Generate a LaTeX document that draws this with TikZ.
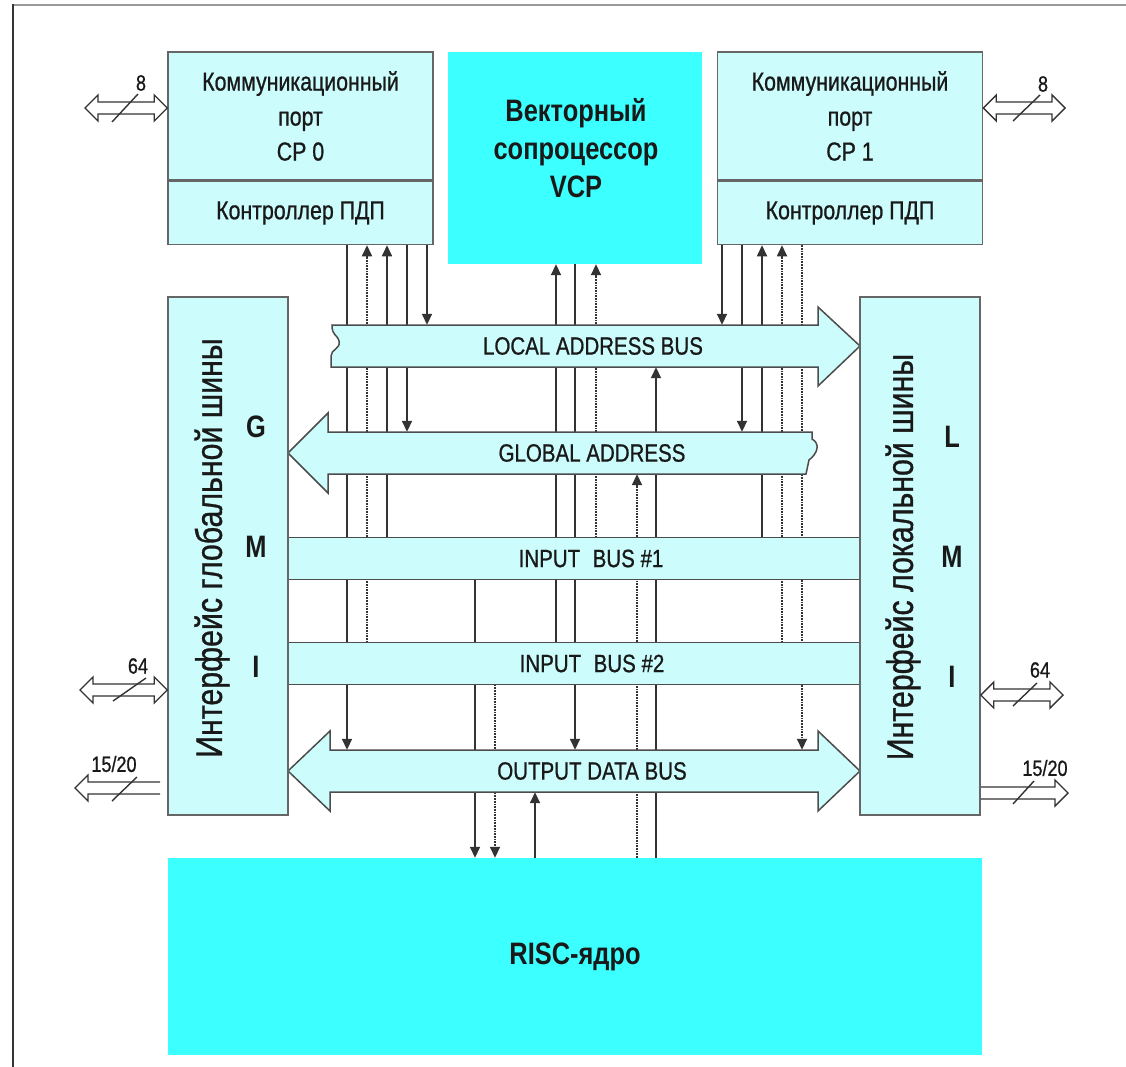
\documentclass[tikz,border=0pt]{standalone}
\usepackage{fontspec}
\setmainfont[FakeStretch=0.82]{Liberation Sans}
\newfontfamily\heavyfont[FakeStretch=0.82, FakeBold=0.8]{Liberation Sans}
\usetikzlibrary{arrows.meta, positioning, calc, backgrounds}
\definecolor{lightcyan}{HTML}{CCFCFC}
\definecolor{brightcyan}{HTML}{3CFFFF}
\definecolor{linegray}{HTML}{333333}

% hollow double-headed port arrow: #1 left tip, #2 right tip
\newcommand{\dblport}[2]{%
  \draw[portline] (#1) -- ++(13,-13) -- ++(0,7) -- ($(#2)+(-13,-6)$) -- ++(0,-7) -- (#2)
    -- ++(-13,13) -- ++(0,-7) -- ($(#1)+(13,6)$) -- ++(0,7) -- cycle;}
% hollow port arrow pointing left: #1 tip, #2 open end
\newcommand{\leftport}[2]{%
  \draw[portline] ($(#2)+(0,-6)$) -- ($(#1)+(13,-6)$) -- ++(0,-7) -- (#1)
    -- ++(13,13) -- ++(0,-7) -- ($(#2)+(0,6)$);}
% hollow port arrow pointing right: #1 open end, #2 tip
\newcommand{\rightport}[2]{%
  \draw[portline] ($(#1)+(0,-6)$) -- ($(#2)+(-13,-6)$) -- ++(0,-7) -- (#2)
    -- ++(-13,13) -- ++(0,-7) -- ($(#1)+(0,6)$);}

\begin{document}
\begin{tikzpicture}[
    x=1pt, y=-1pt,
    >={Triangle[length=11pt,width=10pt]},
    every node/.style={inner sep=0pt, text=black!90},
    blockbox/.style={rectangle, draw=black!60, line width=1.5pt, fill=lightcyan},
    corebox/.style={rectangle, fill=brightcyan},
    txt/.style={font=\heavyfont\fontsize{26}{35}\selectfont, align=center},
    boldtxt/.style={font=\fontsize{31}{38}\selectfont\bfseries, align=center},
    sidetxt/.style={font=\heavyfont\fontsize{37}{40}\selectfont, rotate=90},
    gmiletter/.style={font=\fontsize{31}{36}\selectfont\bfseries},
    bustext/.style={font=\heavyfont\fontsize{25}{30}\selectfont, minimum height=42pt},
    portlbl/.style={font=\heavyfont\fontsize{22}{24}\selectfont},
    busshape/.style={draw=black!70, line width=1.5pt, fill=lightcyan},
    wire/.style={draw=linegray, line width=1.7pt},
    dwire/.style={wire, densely dotted},
    portline/.style={draw=linegray, line width=1.4pt}
]
\useasboundingbox (0,0) rectangle (1126,1067);

% frame
\draw[black!40, line width=2.5pt] (13,5) -- (1126,5);
\draw[black!80, line width=1.5pt] (13,4) -- (13,1067);

% Blocks
\node[blockbox, txt, minimum width=265pt, minimum height=128pt] (cp0) at (300.5,116) {Коммуникационный\\порт\\CP 0};
\node[blockbox, txt, minimum width=265pt, minimum height=63pt, below=0pt of cp0] (dma0) {Контроллер ПДП};
\node[blockbox, txt, minimum width=265pt, minimum height=128pt] (cp1) at (850,116) {Коммуникационный\\порт\\CP 1};
\node[blockbox, txt, minimum width=265pt, minimum height=63pt, below=0pt of cp1] (dma1) {Контроллер ПДП};

\node[corebox, minimum width=254pt, minimum height=212pt] (vcp) at (575,158) {};
\node[boldtxt] (vcptxt) at (576,148) {Векторный\\сопроцессор\\VCP};

\node[blockbox, minimum width=120pt, minimum height=518pt] (gmi) at (228,556) {};
\node[sidetxt] (gmitxt) at (212,548) {Интерфейс глобальной шины};
\node[gmiletter] (gmiG) at (256,427) {G};
\node[gmiletter] (gmiM) at (256,547) {M};
\node[gmiletter] (gmiI) at (256,667) {I};

\node[blockbox, minimum width=120pt, minimum height=518pt] (lmi) at (920,556) {};
\node[sidetxt] (lmitxt) at (903,557) {Интерфейс локальной шины};
\node[gmiletter] (lmiL) at (952,437) {L};
\node[gmiletter] (lmiM) at (952,557) {M};
\node[gmiletter] (lmiI) at (952,677) {I};

\node[corebox, boldtxt, minimum width=814pt, minimum height=197pt] (risc) at (575,956.5) {RISC-ядро};

% Bus labels
\node[bustext] (lbus) at (593,346) {LOCAL ADDRESS BUS};
\node[bustext] (gbus) at (592,453) {GLOBAL ADDRESS};
\node[bustext] (ib1) at (591,558.5) {INPUT\enspace BUS \#1};
\node[bustext] (ib2) at (592,663.5) {INPUT\enspace BUS \#2};
\node[bustext] (obus) at (592,771) {OUTPUT DATA BUS};

\begin{scope}[on background layer]
% CP0 lines
\draw[wire,->] (347,0 |- dma0.south) -- (347,0 |- obus.north);
\draw[dwire,->] (367,0 |- ib2.north) -- (367,0 |- dma0.south);
\draw[wire,->] (387,0 |- ib1.north) -- (387,0 |- dma0.south);
\draw[wire,->] (407,0 |- dma0.south) -- (407,0 |- gbus.north);
\draw[wire,->] (427,0 |- dma0.south) -- (427,0 |- lbus.north);
% CP1 lines
\draw[wire,->] (722,0 |- dma1.south) -- (722,0 |- lbus.north);
\draw[wire,->] (742,0 |- dma1.south) -- (742,0 |- gbus.north);
\draw[wire,->] (762,0 |- ib1.north) -- (762,0 |- dma1.south);
\draw[dwire,->] (782,0 |- ib2.north) -- (782,0 |- dma1.south);
\draw[dwire,->] (802,0 |- dma1.south) -- (802,0 |- obus.north);
% VCP lines
\draw[wire,->] (556,0 |- ib2.north) -- (556,0 |- vcp.south);
\draw[wire,->] (575,0 |- vcp.south) -- (575,0 |- obus.north);
\draw[dwire,->] (596,0 |- ib1.north) -- (596,0 |- vcp.south);
% RISC lines
\draw[dwire,->] (637,0 |- risc.north) -- (637,0 |- gbus.south);
\draw[wire,->] (656,0 |- risc.north) -- (656,0 |- lbus.south);
\draw[wire,->] (475,0 |- ib1.south) -- (475,0 |- risc.north);
\draw[dwire,->] (495,0 |- ib2.south) -- (495,0 |- risc.north);
\draw[wire,->] (535,0 |- risc.north) -- (535,0 |- obus.south);

% Buses
\draw[busshape] (818,325) -- (818,307) -- (860,346) -- (818,386) -- (818,367) -- (331,367)
  -- (331,356) .. controls (331,349) and (341,349) .. (339,341) .. controls (337,334) and (332,336) .. (332,325) -- cycle;
\draw[busshape] (288,453) -- (328,413) -- (328,432) -- (812,432) -- (812,439)
  .. controls (821,444) and (817,454) .. (809,460) -- (806,474) -- (328,474) -- (328,493) -- cycle;
\draw[busshape] (288,537.5) rectangle (860,579.5);
\draw[busshape] (288,642.5) rectangle (860,684.5);
\draw[busshape] (288,771) -- (330,731) -- (330,750) -- (818,750) -- (818,731) -- (860,771)
  -- (818,811) -- (818,792) -- (330,792) -- (330,811) -- cycle;
\end{scope}

% Ports
\coordinate (p8l) at (85,108);
\coordinate (cp0w) at (cp0.west |- p8l);
\dblport{p8l}{cp0w}
\draw[portline] (112,122) -- (138,94);
\node[portlbl] (n8l) at (141,83) {8};

\coordinate (p8r) at (1065,108);
\coordinate (cp1e) at (cp1.east |- p8r);
\dblport{cp1e}{p8r}
\draw[portline] (1013,121) -- (1040,95);
\node[portlbl] (n8r) at (1043,84) {8};

\coordinate (p64l) at (80,690);
\coordinate (gmiw) at (gmi.west |- p64l);
\dblport{p64l}{gmiw}
\draw[portline] (113,701) -- (146,678);
\node[portlbl] (n64l) at (138,666) {64};

\coordinate (p1520l) at (75,788);
\coordinate (e1520l) at (160,788);
\leftport{p1520l}{e1520l}
\draw[portline] (112,801) -- (137,777);
\node[portlbl] (n1520l) at (114,764) {15/20};

\coordinate (p64r) at (1063,695);
\coordinate (lmie) at (lmi.east |- p64r);
\dblport{lmie}{p64r}
\draw[portline] (1013,706) -- (1037,683);
\node[portlbl] (n64r) at (1040,670) {64};

\coordinate (p1520r) at (1068,793);
\coordinate (lmie2) at (lmi.east |- p1520r);
\rightport{lmie2}{p1520r}
\draw[portline] (1013,804) -- (1034,781);
\node[portlbl] (n1520r) at (1045,768) {15/20};

\end{tikzpicture}
\end{document}
